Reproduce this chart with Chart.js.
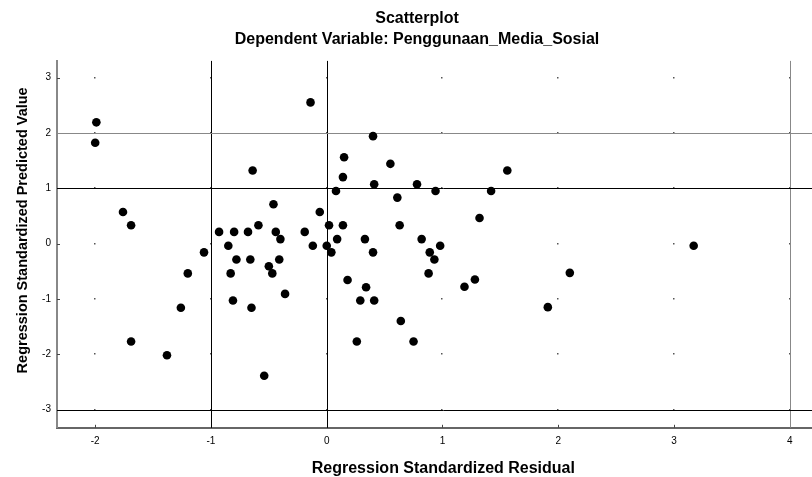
<!DOCTYPE html>
<html>
<head>
<meta charset="utf-8">
<script src="https://cdn.jsdelivr.net/npm/chart.js@4.4.0/dist/chart.umd.min.js"></script>
<style>
html, body { margin: 0; padding: 0; background: #fff; overflow: hidden; }
#wrap { width: 834px; height: 477px; }
</style>
</head>
<body>
<div id="wrap"><canvas id="myChart" width="834" height="477"></canvas></div>
<script>
const residual = [
  -1.99, -2.00, -0.64, -1.76, -1.69, -0.46, -0.93, -0.80, -0.68, -0.59,
  -0.85, -1.06, -0.78, -0.66, -0.50, -0.47, -1.20, -0.83, -0.81, -0.65,
  -1.26, -1.69, -1.38, -0.54, -0.14, 0.40, 0.15, 0.55, 0.14, 0.41,
  0.78, 0.08, 0.94, 0.61, -0.06, 0.02, 0.14, 0.63, -0.44, -0.19,
  -0.40, 0.09, 0.33, 0.82, -0.12, 0.00, 0.98, 0.04, 0.40, 0.89,
  0.93, -0.41, 0.88, 0.18, 0.34, -0.36, 0.29, 0.41, 0.64, 0.26,
  0.75, 1.56, 1.42, 1.32, 3.17, 2.10, 1.28, 1.19, 1.91
];
const predicted = [
  2.19, 1.82, 1.32, 0.57, 0.33, 0.71, 0.21, 0.21, 0.21, 0.33,
  -0.04, -0.16, -0.29, -0.29, -0.41, -0.54, -0.54, -0.54, -1.03, -1.16,
  -1.16, -1.77, -2.02, -2.39, 2.55, 1.94, 1.56, 1.44, 1.20, 1.07,
  1.07, 0.95, 0.95, 0.83, 0.57, 0.33, 0.33, 0.33, 0.21, 0.21,
  0.08, 0.08, 0.08, 0.08, -0.04, -0.04, -0.04, -0.16, -0.16, -0.16,
  -0.29, -0.29, -0.54, -0.66, -0.79, -0.91, -1.03, -1.03, -1.40, -1.77,
  -1.77, 1.32, 0.95, 0.46, -0.04, -0.53, -0.65, -0.78, -1.15
];
const xTicks = [-2, -1, 0, 1, 2, 3, 4];
const yTicks = [-3, -2, -1, 0, 1, 2, 3];
const refX = [-1, 0, 4];
const refY = [2, 1, -3];
const refXColors = ['#000', '#000', '#888'];
const refYColors = ['#888', '#000', '#000'];

Chart.defaults.font.family = "'Liberation Sans', Arial, sans-serif";
Chart.defaults.color = '#000';

const refPlugin = {
  id: 'refs',
  beforeDatasetsDraw(chart) {
    const c = chart.ctx;
    const {left, right, top, bottom} = chart.chartArea;
    const xs = chart.scales.x, ys = chart.scales.y;
    c.save();
    // little dots where ticks cross
    c.fillStyle = '#555';
    xTicks.forEach(xv => {
      yTicks.forEach(yv => {
        c.fillRect(Math.round(xs.getPixelForValue(xv)) - 1, Math.round(ys.getPixelForValue(yv)) - 1, 1.5, 1.5);
      });
    });
    // tick marks on the axes, pointing inwards
    c.strokeStyle = '#444';
    c.lineWidth = 1;
    yTicks.forEach(yv => {
      const py = Math.round(ys.getPixelForValue(yv)) + 0.5;
      c.beginPath(); c.moveTo(left, py); c.lineTo(left + 3, py); c.stroke();
    });
    xTicks.forEach(xv => {
      const px = Math.round(xs.getPixelForValue(xv)) + 0.5;
      c.beginPath(); c.moveTo(px, bottom); c.lineTo(px, bottom - 3); c.stroke();
    });
    // reference lines
    refX.forEach((xv, i) => {
      const px = Math.round(xs.getPixelForValue(xv)) + 0.5;
      c.strokeStyle = refXColors[i];
      c.beginPath(); c.moveTo(px, top); c.lineTo(px, bottom); c.stroke();
    });
    refY.forEach((yv, i) => {
      const py = Math.round(ys.getPixelForValue(yv)) + 0.5;
      c.strokeStyle = refYColors[i];
      c.beginPath(); c.moveTo(left, py); c.lineTo(right, py); c.stroke();
    });
    // y axis title
    c.translate(23, (top + bottom) / 2 - 14);
    c.rotate(-Math.PI / 2);
    c.fillStyle = '#000';
    c.font = "bold 14.5px 'Liberation Sans', Arial, sans-serif";
    c.textAlign = 'center';
    c.textBaseline = 'middle';
    c.fillText('Regression Standardized Predicted Value', 0, 0);
    c.restore();
  }
};

const ctx = document.getElementById('myChart');

new Chart(ctx, {
  type: 'scatter',
  data: {
    datasets: [{
      data: residual.map((x, i) => ({x: x, y: predicted[i]})),
      backgroundColor: '#000',
      borderWidth: 0,
      pointRadius: 4.3
    }]
  },
  options: {
    responsive: false,
    animation: false,
    layout: { padding: 0 },
    plugins: {
      legend: { display: false },
      tooltip: { enabled: false },
      title: {
        display: true,
        text: 'Scatterplot',
        font: { size: 16, weight: 'bold' },
        padding: { top: 9, bottom: 2 }
      },
      subtitle: {
        display: true,
        text: 'Dependent Variable: Penggunaan_Media_Sosial',
        font: { size: 16, weight: 'bold' },
        padding: { top: 0, bottom: 11.5 }
      }
    },
    scales: {
      x: {
        type: 'linear',
        min: -2.33,
        max: 4.345,
        afterBuildTicks: a => { a.ticks = xTicks.map(v => ({value: v})); },
        ticks: { font: { size: 10 }, padding: 7, maxRotation: 0, autoSkip: false },
        grid: { display: false, drawTicks: false },
        border: { color: '#666', width: 2 },
        title: {
          display: true,
          text: 'Regression Standardized Residual',
          font: { size: 16, weight: 'bold' },
          padding: { top: 5.5, bottom: -1.5 }
        }
      },
      y: {
        type: 'linear',
        min: -3.33,
        max: 3.30,
        afterBuildTicks: a => { a.ticks = yTicks.map(v => ({value: v})); },
        afterFit: s => { s.width = 57; },
        ticks: { font: { size: 10 }, padding: 6, autoSkip: false },
        grid: { display: false, drawTicks: false },
        border: { color: '#888', width: 2 }
      }
    }
  },
  plugins: [refPlugin]
});
</script>
</body>
</html>
